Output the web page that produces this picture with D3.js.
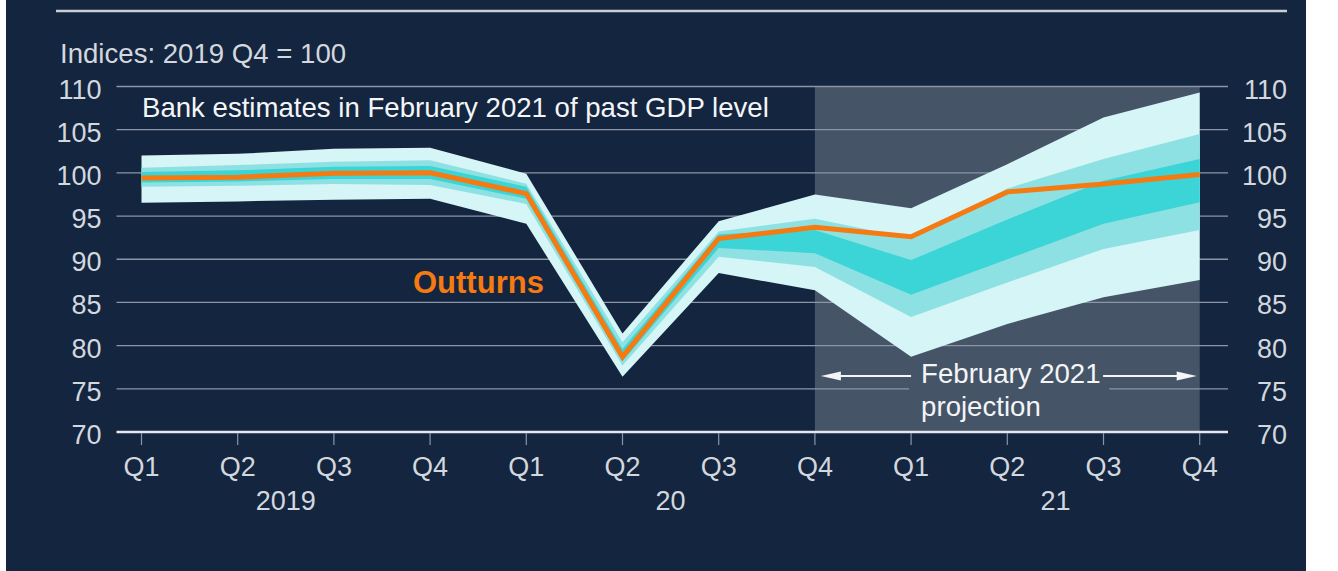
<!DOCTYPE html>
<html>
<head>
<meta charset="utf-8">
<script src="https://cdn.jsdelivr.net/npm/d3@7"></script>
<style>
  html, body { margin: 0; padding: 0; background: #ffffff; }
  svg { display: block; font-family: "Liberation Sans", Arial, Helvetica, sans-serif; }
</style>
</head>
<body>
<svg id="chart" width="1338" height="571"></svg>
<script>
// Quarterly x-axis categories and year groupings
const quarters = ["Q1", "Q2", "Q3", "Q4", "Q1", "Q2", "Q3", "Q4", "Q1", "Q2", "Q3", "Q4"];
const yearLabels = ["2019", "20", "21"];
const yTicks = [70, 75, 80, 85, 90, 95, 100, 105, 110];

// GDP outturns (2019 Q4 = 100)
const outturns = [99.4, 99.5, 99.95, 100.0, 97.6, 78.7, 92.4, 93.7, 92.6, 97.8, 98.7, 99.8];

// Fan-chart bands: outer, middle and inner probability ranges
const outerLow  = [96.55, 96.7, 96.9, 97.0, 94.1, 76.4, 88.4, 86.4, 78.7, 82.5, 85.6, 87.6];
const outerHigh = [102.0, 102.2, 102.8, 102.9, 99.9, 81.4, 94.4, 97.5, 95.9, 101.0, 106.4, 109.3];
const midLow    = [98.4, 98.5, 98.7, 98.6, 96.4, 77.7, 90.3, 89.1, 83.3, 87.3, 91.2, 93.4];
const midHigh   = [100.6, 100.9, 101.3, 101.45, 98.75, 80.4, 93.2, 94.7, 92.4, 98.2, 101.6, 104.5];
const innerLow  = [98.9, 99.0, 99.3, 99.3, 97.0, 78.2, 91.3, 90.7, 85.9, 90.0, 94.1, 96.6];
const innerHigh = [100.1, 100.3, 100.7, 100.8, 98.4, 79.6, 92.9, 93.4, 89.9, 94.6, 99.1, 101.6];

// Index at which the projection period starts
const projectionStart = 7;

const C = {
  bg: "#14253f",
  shade: "#465468",
  grid: "#8a95a6",
  axis: "#e4e7ec",
  text: "#d3d7de",
  white: "#f4f5f7",
  outer: "#d5f5f6",
  middle: "#8ee1e3",
  inner: "#3bd4d7",
  orange: "#f57a12"
};
const fsAxis = 27, fsText = 27.6;

const svg = d3.select("#chart");

// Panel background
svg.append("rect").attr("x", 6).attr("y", 0).attr("width", 1300).attr("height", 571).attr("fill", C.bg);

const x = d3.scaleLinear().domain([0, quarters.length - 1]).range([141.5, 1199.7]);
const y = d3.scaleLinear().domain([70, 110]).range([432, 86.5]);
const gridLeft = 116.5, gridRight = 1228;

// Top rule
svg.append("line")
  .attr("x1", 56).attr("x2", 1287).attr("y1", 11).attr("y2", 11)
  .attr("stroke", "#c9cdd5").attr("stroke-width", 2.5);

// Units label
svg.append("text")
  .attr("x", 60).attr("y", 63)
  .attr("fill", C.text).attr("font-size", fsText)
  .text("Indices: 2019 Q4 = 100");

// Projection shading
svg.append("rect")
  .attr("x", x(projectionStart)).attr("y", y(110))
  .attr("width", x(quarters.length - 1) - x(projectionStart))
  .attr("height", y(70) - y(110))
  .attr("fill", C.shade);

// Horizontal gridlines
svg.append("g").selectAll("line")
  .data(yTicks.filter(d => d !== 70))
  .join("line")
  .attr("x1", gridLeft).attr("x2", gridRight)
  .attr("y1", d => y(d)).attr("y2", d => y(d))
  .attr("stroke", C.grid).attr("stroke-width", 1.3);

// Left and right tick labels
const tickLabels = svg.append("g").attr("fill", C.text).attr("font-size", fsAxis);
tickLabels.selectAll("text.l")
  .data(yTicks).join("text").attr("class", "l")
  .attr("x", 101.5).attr("y", d => y(d) + 12)
  .attr("text-anchor", "end").text(d => d);
tickLabels.selectAll("text.r")
  .data(yTicks).join("text").attr("class", "r")
  .attr("x", 1287).attr("y", d => y(d) + 12)
  .attr("text-anchor", "end").text(d => d);

// Fan bands
const idx = d3.range(quarters.length);
const band = (lo, hi) => d3.area()
  .x(i => x(i)).y0(i => y(lo[i])).y1(i => y(hi[i]))(idx);
svg.append("path").attr("d", band(outerLow, outerHigh)).attr("fill", C.outer);
svg.append("path").attr("d", band(midLow, midHigh)).attr("fill", C.middle);
svg.append("path").attr("d", band(innerLow, innerHigh)).attr("fill", C.inner);

// Outturns line
svg.append("path")
  .attr("d", d3.line().x(i => x(i)).y(i => y(outturns[i]))(idx))
  .attr("fill", "none").attr("stroke", C.orange)
  .attr("stroke-width", 5).attr("stroke-linejoin", "miter");

// X axis baseline and ticks
svg.append("line")
  .attr("x1", gridLeft).attr("x2", gridRight).attr("y1", y(70)).attr("y2", y(70))
  .attr("stroke", C.axis).attr("stroke-width", 2.5);
svg.append("g").selectAll("line")
  .data(idx).join("line")
  .attr("x1", i => x(i)).attr("x2", i => x(i))
  .attr("y1", y(70) + 1).attr("y2", y(70) + 13)
  .attr("stroke", C.grid).attr("stroke-width", 1.2);

// Quarter labels
svg.append("g").selectAll("text")
  .data(quarters).join("text")
  .attr("x", (d, i) => x(i)).attr("y", 476)
  .attr("text-anchor", "middle").attr("fill", C.text).attr("font-size", fsAxis)
  .text(d => d);

// Year labels, centred on each group of four quarters
svg.append("g").selectAll("text")
  .data(yearLabels).join("text")
  .attr("x", (d, k) => x(4 * k + 1.5)).attr("y", 510)
  .attr("text-anchor", "middle").attr("fill", C.text).attr("font-size", fsAxis)
  .text(d => d);

// In-chart captions
svg.append("text")
  .attr("x", 142).attr("y", 117)
  .attr("fill", C.white).attr("font-size", fsText)
  .text("Bank estimates in February 2021 of past GDP level");

svg.append("text")
  .attr("x", 413).attr("y", 293)
  .attr("fill", C.orange).attr("font-size", 31).attr("font-weight", "bold")
  .text("Outturns");

// Projection annotation with arrows
const annX = x(projectionStart + 1) + 10;
svg.append("rect")
  .attr("x", annX - 12).attr("y", 360)
  .attr("width", 200).attr("height", 64)
  .attr("fill", C.shade);

const ann = svg.append("text").attr("fill", C.white).attr("font-size", fsText);
ann.append("tspan").attr("x", annX).attr("y", 383).text("February 2021");
ann.append("tspan").attr("x", annX).attr("y", 416).text("projection");

const arrowY = 376;
const arrows = svg.append("g").attr("stroke", C.white).attr("fill", C.white);
// left arrow
arrows.append("line")
  .attr("x1", x(projectionStart) + 20).attr("x2", annX - 10)
  .attr("y1", arrowY).attr("y2", arrowY).attr("stroke-width", 2);
arrows.append("path")
  .attr("d", `M${x(projectionStart) + 6},${arrowY} l20,-4.5 l0,9 Z`)
  .attr("stroke", "none");
// right arrow
const rEnd = x(quarters.length - 1) - 3;
arrows.append("line")
  .attr("x1", annX + 182).attr("x2", rEnd - 16)
  .attr("y1", arrowY).attr("y2", arrowY).attr("stroke-width", 2);
arrows.append("path")
  .attr("d", `M${rEnd},${arrowY} l-20,-4.5 l0,9 Z`)
  .attr("stroke", "none");
</script>
</body>
</html>
